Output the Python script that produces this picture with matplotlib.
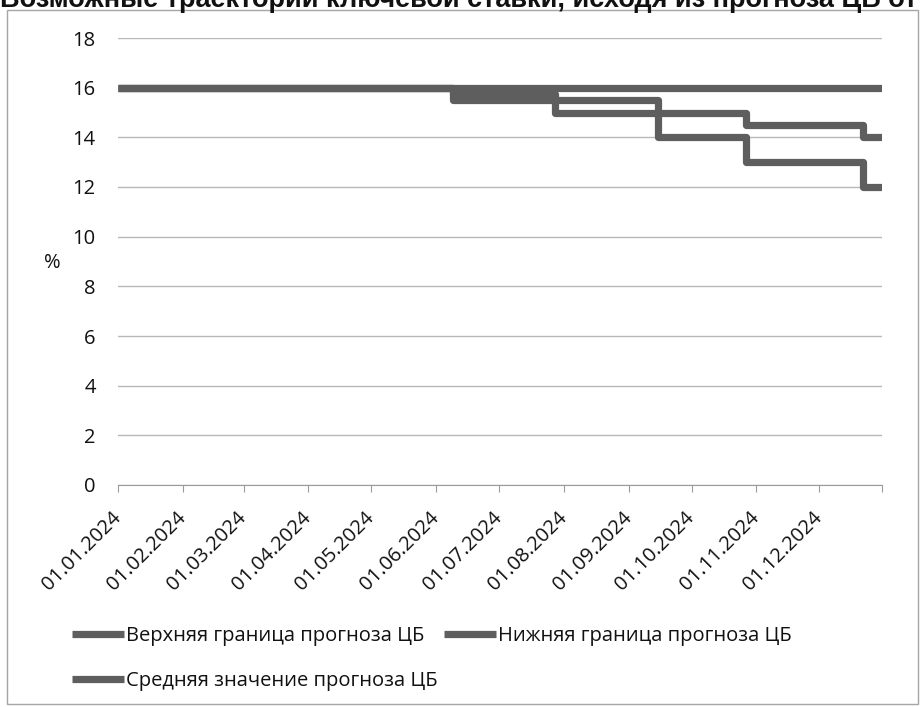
import pandas as pd
import matplotlib.pyplot as plt
from matplotlib.lines import Line2D
from matplotlib.patches import Rectangle

# data (key rate scenarios, %)
dates = pd.to_datetime(['2024-01-01', '2024-06-09', '2024-07-28', '2024-09-15',
                        '2024-10-27', '2024-12-22', '2024-12-31'])
upper = [16, 16, 16, 16, 16, 16, 16]
mean = [16, 15.75, 15.5, 15, 14.5, 14, 14]
lower = [16, 15.5, 15, 14, 13, 12, 12]

names = ['Верхняя граница прогноза ЦБ', 'Нижняя граница прогноза ЦБ',
         'Средняя значение прогноза ЦБ']
title = 'Возможные траектории ключевой ставки, исходя из прогноза ЦБ от'

tick_dates = list(pd.date_range('2024-01-01', '2024-12-01', freq='MS')) + [pd.Timestamp('2024-12-31')]
tick_labels = [d.strftime('%d.%m.%Y') for d in tick_dates[:-1]] + ['']

line_color = '#5e5e5e'
text_color = '#111111'
plt.rcParams['font.family'] = ['Open Sans', 'DejaVu Sans']

W, H = 922, 707
fig = plt.figure(figsize=(W / 100, H / 100), dpi=100)
fig.patch.set_facecolor('white')
ax = fig.add_axes([118 / W, 1 - 485 / H, (882 - 118) / W, (485 - 38) / H])

for vals in (upper, lower, mean):
    ax.plot(dates, vals, drawstyle='steps-post', color=line_color, lw=5.2,
            solid_joinstyle='round', solid_capstyle='butt', zorder=3)

ax.set_xlim(pd.Timestamp('2024-01-01'), pd.Timestamp('2024-12-31'))
ax.set_ylim(0, 18)
ax.set_yticks(range(0, 19, 2))
ax.yaxis.grid(True, color='#b8b8b8', lw=1)
ax.set_axisbelow(True)
for s in ('top', 'right', 'left'):
    ax.spines[s].set_visible(False)
ax.spines['bottom'].set_color('#9a9a9a')

ax.set_xticks(tick_dates)
ax.set_xticklabels(tick_labels, rotation=45, ha='right', va='center',
                   rotation_mode='anchor')
ax.tick_params(axis='x', length=5, color='#9a9a9a', pad=16.5, labelsize=14.5,
               labelcolor=text_color)
ax.tick_params(axis='y', length=0, pad=16, labelsize=14.5, labelcolor=text_color)

fig.text(52 / W, 1 - 263 / H, '%', fontsize=14.5, ha='center', va='center',
         color=text_color)

# title is cut off at the top edge of the scan
fig.text(0, 1 - 7 / H, title, fontsize=19.5, fontweight='bold',
         family='Liberation Sans', va='baseline', ha='left', color='#111111')

# chart frame
fig.patches.append(Rectangle((7 / W, 1 - 704 / H), (918 - 7) / W, (704 - 10) / H,
                             transform=fig.transFigure, fill=False,
                             edgecolor='#a5a5a5', lw=1))

handles = [Line2D([], [], color=line_color, lw=5.2, solid_capstyle='butt')
           for _ in range(3)]
# column-major order: upper, mean in first column, lower in second
leg = fig.legend([handles[0], handles[2], handles[1]],
                 [names[0], names[2], names[1]],
                 ncol=2, loc='upper left', bbox_to_anchor=(72 / W, 1 - 626 / H),
                 frameon=False, fontsize=14.5, handlelength=2.6,
                 handletextpad=0.1, columnspacing=0.3, labelspacing=1.25,
                 borderpad=0, borderaxespad=0)
for t in leg.get_texts():
    t.set_color(text_color)

fig.savefig('out.png', dpi=100, facecolor='white')
